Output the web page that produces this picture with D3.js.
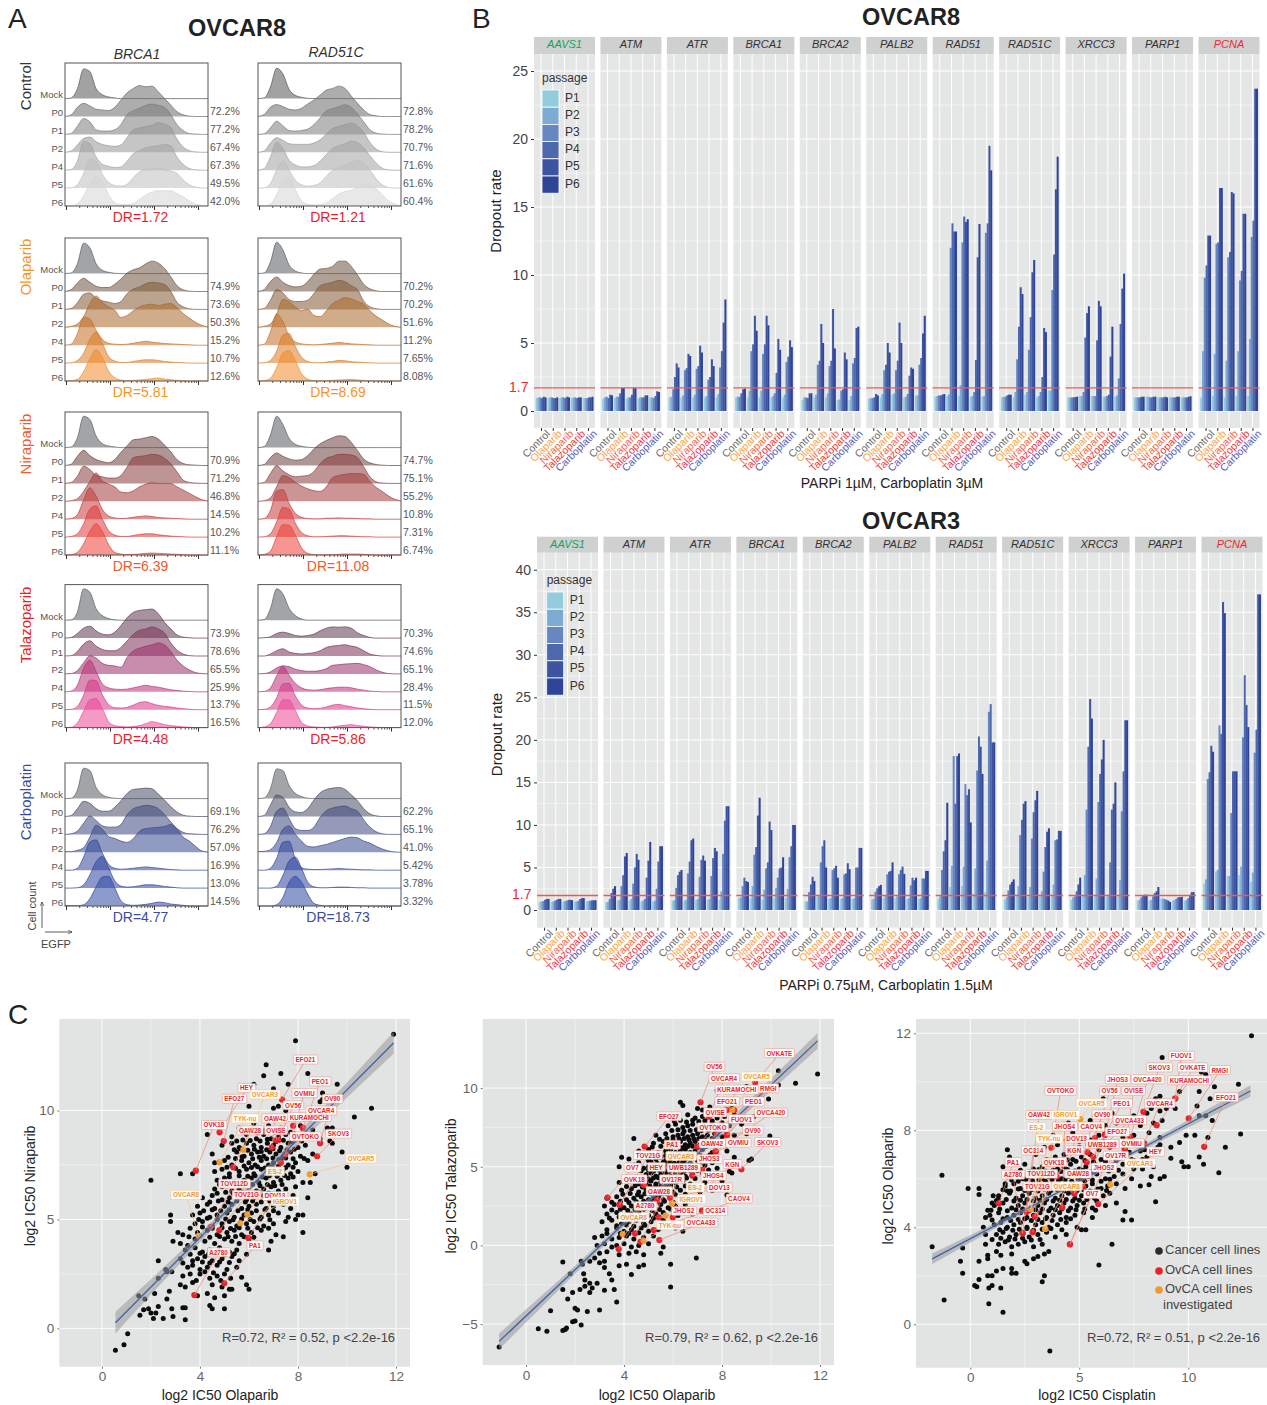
<!DOCTYPE html>
<html>
<head>
<meta charset="utf-8">
<script src="https://cdn.jsdelivr.net/npm/d3@7"></script>
<style>
body{margin:0;background:#fff}
text{font-family:'Liberation Sans',Arial,sans-serif}
</style>
</head>
<body>
<script>
// ---- panel A: flow histograms, one row per passage, heights
const rowNames = ["Mock","P0","P1","P2","P4","P5","P6"];
const treatments = ["Control","Olaparib","Niraparib","Talazoparib","Carboplatin"];
const histControlBRCA1 = [[0,2,30,90,82,30,12,5,2,0,0,0,0,0,0,0,0,0,0,0,0,0,0,0],[0,5,28,40,32,22,20,18,28,50,72,85,94,90,92,75,55,35,15,5,1,0,0,0],[0,3,25,48,38,14,10,10,14,30,60,72,80,88,92,88,82,60,30,12,3,1,0,0],[0,4,22,42,46,32,24,20,18,22,45,68,74,78,82,90,85,75,40,16,5,1,0,0],[0,2,28,88,80,40,18,12,8,10,28,50,60,68,72,74,78,74,40,18,5,1,0,0],[0,1,10,45,88,82,42,18,8,6,12,32,50,56,58,60,56,52,45,25,10,3,0,0],[0,1,6,30,70,90,75,35,10,4,4,8,20,34,42,46,46,46,38,28,16,6,2,0]];
const histControlRAD51C = [[0,2,35,92,75,28,10,4,1,0,0,0,0,0,0,0,0,0,0,0,0,0,0,0],[0,6,28,36,30,22,20,25,38,50,65,80,85,92,85,62,40,20,6,2,0,0,0,0],[0,2,20,40,26,12,10,12,16,30,50,72,78,84,90,82,62,38,14,4,1,0,0,0],[0,4,28,44,36,26,24,24,24,28,38,55,72,78,84,88,80,60,30,10,2,0,0,0],[0,5,40,85,66,30,16,10,10,14,28,48,66,74,80,88,84,68,44,22,6,1,0,0],[0,1,14,55,82,55,24,10,6,8,16,36,54,62,70,78,84,76,55,28,10,2,0,0],[0,1,6,34,78,86,50,16,5,3,4,10,22,36,44,48,56,66,62,52,34,16,6,1]];
const histOlaparibBRCA1 = [[0,2,30,92,78,30,10,4,1,0,0,0,0,0,0,0,0,0,0,0,0,0,0,0],[0,6,26,40,28,16,12,12,22,38,56,66,72,84,92,86,70,45,18,5,1,0,0,0],[0,3,20,46,50,34,26,22,18,24,48,62,68,78,82,80,76,55,22,8,2,0,0,0],[0,3,10,32,72,95,75,62,52,30,36,50,62,68,70,66,70,72,60,42,28,15,6,1],[0,3,35,85,80,45,18,6,3,2,3,6,9,12,9,7,5,4,3,2,1,0,0,0],[0,1,8,30,72,94,60,20,6,2,2,5,8,10,10,8,5,3,2,1,0,0,0,0],[0,1,5,28,68,95,72,30,10,3,1,2,3,5,7,9,6,4,2,1,0,0,0,0]];
const histOlaparibRAD51C = [[0,2,35,95,72,26,8,2,0,0,0,0,0,0,0,0,0,0,0,0,0,0,0,0],[0,6,30,44,28,18,14,16,30,52,68,70,76,92,92,76,50,22,8,2,0,0,0,0],[0,3,28,60,50,30,24,24,28,48,72,78,82,88,84,72,60,25,8,2,0,0,0,0],[0,3,10,40,85,78,62,50,55,36,32,50,72,82,90,86,78,70,50,34,22,10,3,0],[0,3,40,95,72,28,10,4,2,1,2,4,6,8,6,4,3,2,1,0,0,0,0,0],[0,1,8,36,85,90,50,18,5,1,1,3,5,8,7,4,3,2,1,0,0,0,0,0],[0,1,8,40,85,92,62,22,6,1,0,1,2,3,4,5,3,2,1,0,0,0,0,0]];
const histNiraparibBRCA1 = [[0,2,30,95,85,35,12,5,2,0,0,0,0,0,0,0,0,0,0,0,0,0,0,0],[0,4,28,46,30,18,12,8,18,40,60,78,80,84,88,80,62,42,18,6,2,1,0,0],[0,3,22,52,42,24,20,16,16,24,50,78,82,84,88,86,76,60,35,10,3,1,0,0],[0,2,8,30,60,86,62,52,44,28,26,32,44,52,56,54,54,54,44,34,24,14,5,1],[0,2,14,58,95,70,30,10,4,2,3,6,8,10,8,5,4,3,2,1,0,0,0,0],[0,2,10,40,85,95,55,20,6,2,2,5,8,10,10,7,5,3,2,1,0,0,0,0],[0,1,8,34,72,95,72,32,8,3,1,2,3,5,6,5,4,3,2,1,0,0,0,0]];
const histNiraparibRAD51C = [[0,3,38,95,70,28,10,4,1,0,0,0,0,0,0,0,0,0,0,0,0,0,0,0],[0,3,24,38,28,20,16,18,30,50,66,76,84,90,88,70,45,20,8,3,1,0,0,0],[0,3,30,54,38,26,20,22,24,36,60,76,82,88,88,86,78,50,20,5,1,0,0,0],[0,2,10,44,78,72,58,46,38,32,30,44,72,78,82,84,84,82,60,42,30,16,6,1],[0,2,26,85,90,48,18,6,2,1,1,3,3,4,3,3,2,1,1,0,0,0,0,0],[0,1,10,46,90,85,42,14,4,1,1,2,3,4,4,3,2,1,1,0,0,0,0,0],[0,2,12,55,92,90,60,22,5,1,0,1,1,2,3,3,3,2,1,0,0,0,0,0]];
const histTalazoparibBRCA1 = [[0,1,25,95,85,35,14,5,1,0,0,0,0,0,0,0,0,0,0,0,0,0,0,0],[0,2,14,30,36,22,12,10,18,38,62,78,84,86,88,74,48,28,10,3,1,0,0,0],[0,1,14,36,46,30,20,16,16,26,46,66,78,82,88,82,70,40,18,6,1,0,0,0],[0,1,10,34,55,48,32,26,24,20,50,70,78,84,88,94,88,68,42,24,12,4,1,0],[0,2,20,72,96,62,24,12,8,7,8,12,16,20,16,14,10,6,4,2,1,0,0,0],[0,1,10,44,90,88,45,16,6,5,7,14,22,24,18,13,10,8,5,3,1,0,0,0],[0,1,14,50,84,88,58,18,6,3,2,3,6,12,18,14,9,6,4,2,1,0,0,0]];
const histTalazoparibRAD51C = [[0,2,35,95,80,36,14,4,0,0,0,0,0,0,0,0,0,0,0,0,0,0,0,0],[0,1,4,14,18,14,8,6,8,12,22,30,34,33,34,30,16,8,2,0,0,0,0,0],[0,0,6,16,22,12,8,6,8,10,16,26,30,32,34,30,26,16,6,2,0,0,0,0],[0,1,6,18,24,22,14,10,8,8,10,16,26,28,30,31,32,28,22,12,5,1,0,0],[0,1,12,48,78,50,26,12,6,5,6,10,12,14,14,12,8,5,2,1,0,0,0,0],[0,1,8,36,78,80,42,14,5,3,4,8,14,16,12,9,5,3,1,0,0,0,0,0],[0,2,12,46,84,84,52,16,5,2,1,1,2,5,7,9,6,4,2,1,0,0,0,0]];
const histCarboplatinBRCA1 = [[0,1,26,92,85,34,12,4,1,0,0,0,0,0,0,0,0,0,0,0,0,0,0,0],[0,3,24,46,40,24,16,16,28,48,70,82,84,86,84,68,50,30,14,4,1,0,0,0],[0,2,10,34,56,42,26,22,22,30,60,78,84,88,86,78,60,38,18,6,2,1,0,0],[2,2,6,14,46,82,70,48,42,34,30,42,64,72,74,76,78,84,70,46,34,18,4,1],[0,0,6,40,85,92,52,18,6,3,4,6,8,10,8,6,4,2,1,0,0,0,0,0],[0,0,1,10,40,80,96,62,22,6,3,4,7,10,10,8,5,3,1,0,0,0,0,0],[1,1,1,4,22,58,88,90,55,16,4,2,3,5,8,12,10,6,4,2,0,0,0,0]];
const histCarboplatinRAD51C = [[0,2,30,90,85,40,16,6,1,0,0,0,0,0,0,0,0,0,0,0,0,0,0,0],[0,3,35,65,58,28,14,12,24,50,72,82,86,88,82,66,48,24,8,2,0,0,0,0],[0,2,24,70,80,48,18,12,12,22,52,72,80,84,86,78,70,44,22,8,2,0,0,0],[2,3,8,30,70,80,55,34,18,16,20,24,30,36,42,46,44,34,28,18,10,4,1,0],[0,0,6,36,85,88,35,8,3,2,2,3,4,5,4,3,2,1,1,0,0,0,0,0],[0,0,0,6,38,82,94,60,18,4,1,1,2,3,3,2,1,1,0,0,0,0,0,0],[0,0,0,4,26,72,90,72,36,8,2,0,1,1,1,1,1,0,0,0,0,0,0,0]];
const pctBRCA1 = [["72.2%","77.2%","67.4%","67.3%","49.5%","42.0%"],["74.9%","73.6%","50.3%","15.2%","10.7%","12.6%"],["70.9%","71.2%","46.8%","14.5%","10.2%","11.1%"],["73.9%","78.6%","65.5%","25.9%","13.7%","16.5%"],["69.1%","76.2%","57.0%","16.9%","13.0%","14.5%"]];
const pctRAD51C = [["72.8%","78.2%","70.7%","71.6%","61.6%","60.4%"],["70.2%","70.2%","51.6%","11.2%","7.65%","8.08%"],["74.7%","75.1%","55.2%","10.8%","7.31%","6.74%"],["70.3%","74.6%","65.1%","28.4%","11.5%","12.0%"],["62.2%","65.1%","41.0%","5.42%","3.78%","3.32%"]];
const drBRCA1 = ["DR=1.72","DR=5.81","DR=6.39","DR=4.48","DR=4.77"];
const drRAD51C = ["DR=1.21","DR=8.69","DR=11.08","DR=5.86","DR=18.73"];

// ---- panel B: dropout rate per gene / drug / passage
const genes = ["AAVS1","ATM","ATR","BRCA1","BRCA2","PALB2","RAD51","RAD51C","XRCC3","PARP1","PCNA"];
const drugs = ["Control","Olaparib","Niraparib","Talazoparib","Carboplatin"];
const passages = ["P1","P2","P3","P4","P5","P6"];
const dropoutOvcar8 = [
[[.95,1,1,.95,1.05,1],[.95,1,1,.95,.95,1],[.95,1,1,.95,1.05,1],[.95,1,1,.95,1,1],[.95,.95,.95,1,1,1.05]],
[[.9,1,1.05,.95,1.2,1.15],[.95,1.05,1.05,1.3,1.7,1.7],[.9,1,1,1.2,1.7,1.7],[.9,1,1,1,1.15,1.15],[1,1,.95,1.1,1.45,1.4]],
[[1,1.05,1.6,2.5,3.5,3.2],[1,1.15,3,3.15,4.2,4.05],[1,1.2,3.1,3.3,4.8,4.3],[1,1.1,2.3,2.5,3.8,3.3],[1,1.25,3.2,4.4,6.5,8.2]],
[[1,1.05,1.05,1.3,1.6,1.65],[1,1.5,4.4,4.9,7,5.9],[1,1.5,4.2,4.9,7,6.3],[1,1.1,1.3,2.8,5.3,4.5],[1,1.2,3.6,4,5.2,4.7]],
[[.8,1,1,.95,1.3,1.3],[1,1.2,3.4,3.7,6.4,5],[1,1.3,3.3,3.7,7.5,4.6],[.8,.85,1.5,1.6,4.3,3.8],[.8,1.1,3.5,3.9,6.1,6.2]],
[[.9,.95,.95,1,1.25,1.15],[1,1.25,3,3.4,5,4.3],[1.2,1.3,3,3.7,6.5,5],[1,1.05,1.25,2.6,3.2,3.1],[1.15,1.15,3.4,3.9,5.7,7]],
[[1.05,1.1,1.15,1.15,1.2,1.25],[1.1,1.2,12,13.8,13.2,13.2],[1.1,1.9,12.4,14.3,13.9,14.1],[1.05,1.1,1.4,3.75,11.3,13.75],[1.05,1.1,13.1,13.8,19.5,17.7]],
[[1,1.05,1.05,1.15,1.2,1.2],[1,1.4,3.8,6.2,9.1,8.6],[1.2,1.4,4.5,6.9,10.2,11.1],[1,1.1,1.4,2.5,6.1,5.8],[1.5,1.5,8.9,11.5,16.3,18.7]],
[[1,1,1,1,1.03,1.05],[1.1,1.1,1.4,5.4,7.2,7.7],[1.1,1.1,1.1,5.2,8.1,7.7],[1.05,1.05,1.1,1.2,4,6.2],[1.05,1.15,2.4,6.4,9,10.1]],
[[1,1,1,1,1.05,1.05],[1.05,1.05,1,1,1.05,1.05],[1,1,1,1,1.05,1],[1,1,1,1,1.05,1.05],[1,1,1,1,1.05,1.08]],
[[1,4.4,9.8,10.7,12.9,12.9],[1.1,4.2,12.3,12.4,16.4,16.4],[1,3.7,11.3,11.7,16.1,16],[1.1,4.4,9.6,10.3,14.5,14.5],[1.1,5.3,12.8,14,23.7,23.7]]];
const dropoutOvcar3 = [
[[.95,1,1.05,1.2,1.3,1.3],[.95,1,1.1,1.2,1.3,1.3],[.95,1.05,1.1,1.2,1.2,1.15],[1,1,1.1,1.3,1.4,1.4],[1,1.05,1.1,1.15,1.15,1.15]],
[[.9,.95,1.3,2,2.5,2.8],[1.1,1.2,2.8,4.1,6.3,6.7],[1.1,1.3,3.1,5,6.6,5.9],[1,1.1,1.3,3.8,5.8,8],[1,1.1,2.5,5.7,7.5,7.5]],
[[1.1,1.15,2.6,4.1,4.5,4.7],[1.1,1.2,4.3,5.7,8.2,8.4],[1.2,1.3,3.9,5.9,6.4,5.8],[1.2,1.3,4,6.1,7.3,6.9],[1.2,2.2,6.6,10.5,12.2,12.2]],
[[1.4,1.5,2.8,3.8,3.4,3.3],[1.4,2.8,6.5,7.4,11.1,13.2],[1.2,2.4,4.9,5.6,10.4,9.4],[1.4,2.6,3.8,4.9,5,6.2],[1.4,2.5,6.2,7.5,10,10]],
[[1,1,2.1,3,3.9,3.4],[1.6,1.6,5.6,7.5,8.2,5],[1.3,1.4,4.7,4.9,5.2,3.8],[1.3,1.4,4.2,4.3,5.5,4.8],[1.3,1.4,5,5,7.3,7.3]],
[[1.25,1.3,2.15,2.55,2.8,2.95],[1.4,1.7,4.2,4.5,4.6,5.6],[1.4,1.6,4.2,4.7,5.1,4.25],[1.3,1.4,2.9,3.8,3.5,3.8],[1.3,1.4,3.7,3.7,4.6,4.6]],
[[1.3,1.6,4.7,6.9,8.2,12.6],[2.7,5.2,18.1,12.5,18.1,18.4],[2.8,5.1,14.8,13.5,14.2,10.3],[1.9,4.9,16.4,20.4,19.2,16],[2.1,5.8,23.3,24.2,19.7,19.7]],
[[1.2,1.5,2.3,3,3.3,3.6],[1.6,2.8,8.8,10.6,12.5,12.8],[1.5,2.7,8.4,11.5,12.9,14],[1.6,2.2,4.5,7.4,9.2,9.6],[1.6,3,8.2,8.3,9.3,9.3]],
[[1.2,1.5,1.6,2.2,3,3.8],[1.7,4.1,11.8,19.2,24.8,22.5],[1.6,3.7,12.7,16,17.7,20],[1.5,1.65,5.6,11.8,12.5,15],[1.6,3.5,11.6,16.3,22.3,22.3]],
[[1.1,1.2,1.5,1.7,1.8,1.8],[1.1,1.2,1.6,2,2.2,2.7],[1.35,1.35,1.3,1.2,1.1,.95],[1.1,1.2,1.35,1.5,1.5,1.55],[1.1,1.2,1.4,1.8,2.1,2.1]],
[[3.1,3.6,15.4,16.2,19.3,18.6],[4.5,4.7,21.7,20.7,36.2,34.9],[4,4,11.4,16.3,16.3,16.3],[4.1,5.1,20.3,27.6,24.1,21.5],[3.3,4.4,18.5,21.2,37.1,37.1]]];

// ---- panel C: black dots, x,y pairs in a flat list
const dotsNiraparib = [11.9,13.5,7.9,13.2,6.7,12.1,7.3,11.7,6.6,11.6,8.4,11.7,7.6,11.2,6.2,11.2,9.6,11.2,7,11,9,10.8,9,10.5,8.9,10.4,11,10.1,6,10.2,7.2,10.2,7,10.1,7.5,10,10.3,9.7,9.4,9.2,9.3,8.6,9.4,8.5,9.8,8.1,10,7.4,9.5,6.5,8.5,6.7,8.7,7.1,8.4,6,8.2,5.2,8.2,4.4,7.9,5,2,6.8,3.2,7.1,3.7,7.1,4.3,8.9,4.4,9.4,2.8,5.2,2.8,4.9,2.3,3.1,.55,-1,.9,-.75,1.05,-.25,1.5,1.5,1.75,1.35,1.55,.6,1.7,.85,1.9,.9,2,.7,2.1,.45,2.2,.7,2.3,1,2.5,.45,2.65,1.35,2.75,1.7,2.85,.9,2.9,.55,3.3,.95,3.4,.4,2.15,1.6,2.3,2.3,2.6,2.7,2.65,2.6,2.85,2.6,3.2,3.2,
5.6,9.2,6.2,9.4,6.5,9.1,6.8,9.3,7.3,9.2,7.7,9,8.1,9.3,8.6,9.1,9.2,9.2,5.3,8.8,5.9,8.9,6.3,8.7,6.6,8.9,6.9,8.7,7.2,8.8,7.5,8.9,7.9,8.7,8.4,8.8,8.9,8.7,4.9,8.4,5.3,8.5,5.6,8.3,5.9,8.5,6.2,8.4,6.5,8.3,6.75,8.5,7,8.4,7.3,8.3,7.6,8.5,8,8.3,8.3,8.4,4.5,8,5.5,8.1,5.8,7.9,6.1,8,6.35,8.1,6.6,7.9,6.85,8.1,7.1,8,7.4,7.9,7.7,8.1,8.1,7.9,8.6,8,4.6,7.6,5,7.7,5.3,7.5,5.7,7.7,6,7.6,6.25,7.5,6.5,7.7,6.8,7.5,7,7.6,7.3,7.7,7.6,7.5,7.9,7.6,8.4,7.7,4.6,7.2,4.9,7.3,5.2,7.1,5.6,7.2,5.9,7.3,6.2,7.1,6.5,7.3,6.8,7.1,7.1,7.2,7.4,7.3,7.7,7.1,8,7.2,4.7,6.8,5,6.9,5.4,6.7,5.8,6.8,6.1,6.9,6.4,6.7,6.7,6.9,7,6.7,7.3,6.8,7.6,6.9,8.2,6.7,4.6,6.4,4.9,6.5,5.3,6.3,5.6,6.4,6,6.5,6.3,6.3,6.6,6.4,6.9,6.5,7.2,6.3,7.5,6.4,7.9,6.5,4.1,6,4.5,6.1,4.9,5.9,5.2,6,5.5,6.1,5.9,5.9,6.2,6,6.6,6.1,7,5.9,7.4,6,7.8,6.1,3.9,5.6,4.3,5.7,4.6,5.5,5,5.6,5.3,5.7,5.7,5.5,6,5.6,6.3,5.7,6.7,5.5,7,5.6,7.4,5.7,7.7,5.5,3.7,5.2,4,5.3,4.4,5.1,4.7,5.2,5.1,5.3,5.4,5.1,5.8,5.2,6.1,5.3,6.5,5.1,6.8,5.2,7.2,5.3,7.6,5.1,8,5.2,3.8,4.8,4.1,4.9,4.5,4.7,4.9,4.8,5.2,4.9,5.5,4.7,5.9,4.8,6.2,4.9,6.6,4.7,7,4.8,7.5,4.9,3.1,4.4,3.3,4.3,3.9,4.4,4.3,4.5,4.7,4.3,5.1,4.4,5.4,4.5,5.7,4.3,6.1,4.4,6.5,4.5,7.1,4.3,7.4,4.2,2.9,4,3.2,3.9,3.5,3.8,3.8,4.1,4.2,4,4.6,3.9,5,4.1,5.3,4,5.6,3.9,6,4.1,6.9,4,3.4,3.6,3.8,3.7,4.1,3.5,4.4,3.6,4.8,3.7,5.2,3.5,5.5,3.6,5.9,3.4,6.8,3.6,3.9,3.2,4.2,3.3,4.5,3.1,4.9,3.2,5.3,3.3,5.6,3.1,3.5,2.8,3.7,2.9,4,2.7,4.3,2.8,4.7,2.9,5.1,2.7,5.5,2.8,3.3,2.4,4,2.5,4.4,2.3,4.7,2.4,5,2.5,5.7,2.35,5.9,2,3.2,2,3.4,1.9,3.7,2.1,4.5,2,4.9,1.9,5.3,1.8,6,1.8,3.9,1.5,4.3,1.6,4.6,1.4,5,1.5,5.2,1.8,3.4,.95,4.4,1.05,4.5,.9,5,.9,
5.8,9,6.05,9.05,6.35,8.98,6.65,9.08,7.05,9,7.45,9.05,7.85,8.92,5.5,8.6,5.75,8.65,6.05,8.62,6.45,8.6,6.75,8.68,7.1,8.58,7.4,8.63,7.75,8.55,8.15,8.6,5.4,8.2,5.65,8.25,5.95,8.18,6.22,8.22,6.5,8.12,6.72,8.2,6.98,8.24,7.25,8.15,7.55,8.2,7.85,8.22,5.15,7.85,5.45,7.8,5.72,7.88,6.15,7.78,6.42,7.85,6.72,7.78,6.98,7.82,7.22,7.75,7.5,7.82,7.8,7.78,8.25,7.8,5.1,7.4,5.45,7.35,5.8,7.45,6.1,7.38,6.35,7.42,6.65,7.36,6.95,7.4,7.2,7.44,7.5,7.38,7.8,7.4,5.2,6.95,5.6,7,5.95,6.98,6.25,7,6.55,6.95,6.85,7,7.15,6.98,7.45,7.02,7.8,6.95,4.8,6.6,5.1,6.55,5.45,6.6,5.8,6.55,6.15,6.6,6.45,6.55,6.75,6.6,7.05,6.55,7.35,6.6,4.7,6.2,5.05,6.25,5.35,6.2,5.75,6.25,6.05,6.2,6.4,6.25,6.8,6.2,7.2,6.22,4.4,5.8,4.75,5.85,5.15,5.8,5.5,5.85,5.85,5.8,6.15,5.85,6.5,5.8,6.85,5.85,7.2,5.8,4.15,5.4,4.5,5.45,4.85,5.4,5.2,5.45,5.55,5.4,5.95,5.45,6.3,5.4,6.65,5.45,7,5.4,3.95,5,4.3,5.05,4.7,5,5.05,5.02,5.35,4.98,5.7,5.02,6.05,5,6.45,5.02,6.85,4.98,3.6,4.6,4.1,4.65,4.5,4.6,4.9,4.62,5.25,4.58,5.6,4.62,5.95,4.6,6.35,4.62,6.8,4.6,3.55,4.2,4,4.25,4.4,4.18,4.8,4.22,5.15,4.2,5.45,4.22,5.8,4.2,6.2,4.18,3.6,3.4,4,3.45,4.35,3.4,4.65,3.42,5,3.38,5.4,3.42,3.3,3,3.7,3.1,4.1,3.05,4.4,3,4.8,3.05,5.2,3.02,3.6,2.5,3.85,2.2,4.2,2.6,4.55,2.55,4.85,2.2,5.25,2.3];
const dotsTalazoparib = [11.9,10.9,11,10.3,10.3,11.1,10.3,10.2,9.9,9.3,9.3,9.2,9,10.1,8.6,9.8,7.8,9.85,9.95,6.95,9.2,5.5,9.1,5.4,8.3,4.7,8.2,3.2,6.95,-.8,5.9,-2.65,5.9,-1.2,4.3,-1.85,4.1,-1.2,3.8,-1.3,4.6,-1.35,4.8,-1.25,1.5,-1.05,1.8,-1.8,1.5,-2.8,1.7,-3.4,1.9,-3,2.2,-2.8,2.35,-1.8,2.4,-2.2,2.4,-2.6,2.6,-2.4,2.6,-3,2.7,-2.7,2.9,-2.4,3.2,-2.85,3.6,-2.8,3.7,-3.6,3,-4.1,2.5,-4.2,2.1,-4.1,2,-4,1,-4.15,.5,-5.3,.85,-5.45,1.5,-5.4,1.6,-5.35,1.65,-5.25,1.9,-4.85,2,-4.8,2.25,-5.05,-1.1,-6.45,2.25,-1,2.3,-1.2,2.6,-1,2.8,-.8,3,-1.1,3.2,-1,3.4,-1.8,3.5,-2.2,3.2,-1.4,
6.3,9.1,6.4,8.9,7,8.7,7.2,8.6,7.5,8.8,8,8.5,8.4,8.7,6.2,8.2,6.6,8.3,6.9,8.1,7.2,8.2,7.5,8.3,7.8,8.1,8.1,8.2,8.5,8.3,8.9,8.1,9.3,8.2,5.8,7.6,6.1,7.7,6.4,7.5,6.6,7.6,6.8,7.7,7.1,7.5,7.3,7.6,7.6,7.7,7.9,7.5,8.3,7.6,8.8,7.7,4.4,6.8,5.3,7,5.7,7.1,6,6.9,6.2,7,6.4,7.1,6.6,6.9,6.8,7,7,7.1,7.2,6.9,7.4,7,7.7,7.1,8,6.9,8.5,7,9,7.1,5.2,6.5,5.6,6.6,5.9,6.4,6.1,6.5,6.3,6.6,6.5,6.4,6.7,6.5,6.9,6.6,7.1,6.4,7.3,6.5,7.6,6.6,8,6.4,4.6,6,5,6.1,5.4,5.9,5.7,6,5.9,6.1,6.1,5.9,6.3,6,6.5,6.1,6.7,5.9,6.9,6,7.2,6.1,7.6,5.9,8.2,6,4.2,5.5,3.9,5.6,5,5.4,5.3,5.5,5.5,5.6,5.7,5.4,5.9,5.5,6.1,5.6,6.3,5.4,6.5,5.5,6.7,5.6,7,5.4,7.4,5.5,8.5,5.6,3.8,5,4.4,5.1,4.8,4.9,5,5,5.2,5.1,5.4,4.9,5.6,5,5.8,5.1,6,4.9,6.2,5,6.4,5.1,6.6,4.9,6.9,5,7.3,5.1,7.8,4.9,4.9,4.5,5.1,4.6,5.3,4.4,5.5,4.5,5.7,4.6,5.9,4.4,6.1,4.5,6.3,4.6,6.5,4.4,6.8,4.5,7.2,4.6,7.6,4.4,8,4.5,8.4,4.6,3.8,4,4.2,4.1,4.6,3.9,4.9,4,5.1,4.1,5.3,3.9,5.5,4,5.7,4.1,5.9,3.9,6.1,4,6.4,4.1,6.7,3.9,7.3,4,8,4.1,3.9,3.5,4.3,3.6,4.6,3.4,4.9,3.5,5.2,3.6,5.4,3.4,5.6,3.5,5.8,3.6,6,3.4,6.3,3.5,6.7,3.6,7.1,3.4,7.6,3.5,3.3,3,3.7,3.1,4.1,2.9,4.4,3,4.7,3.1,5,2.9,5.2,3,5.4,3.1,5.6,2.9,5.9,3,6.3,3.1,6.7,2.9,3.2,2.5,3.6,2.6,4,2.4,4.3,2.5,4.6,2.6,4.9,2.4,5.2,2.5,5.5,2.6,5.8,2.4,6.1,2.5,6.5,2.6,3.3,2,3.7,2.1,4,1.9,4.3,2,4.6,2.1,5,1.9,5.3,2,5.6,2.1,6.2,1.9,6.8,2,3.1,1.5,3.5,1.6,3.9,1.4,4.2,1.5,4.5,1.6,4.8,1.4,5.1,1.5,5.6,1.6,6,1.4,3.3,1,3.7,1.1,4,.9,4.3,1,4.7,1.1,5,.9,5.4,1,6.1,1.1,6.4,.9,2.8,.5,3.1,.6,3.5,.4,3.8,.5,4.1,.6,4.4,.4,4.8,.5,5.2,.6,2.9,0,3.2,.1,3.5,-.1,3.7,0,4,.1,4.3,-.1,4.6,0,5,.1,5.6,-.1,3,-.5,3.3,-.4,3.8,-.6,4.2,-.5,4.5,-.4,4.8,-.6,5.5,-.5,
6.05,7.9,6.3,7.95,6.55,7.85,6.8,7.95,7.05,7.88,7.3,7.92,7.6,7.9,8,7.8,5.95,7.3,6.2,7.35,6.45,7.25,6.7,7.3,6.95,7.35,7.15,7.28,7.45,7.32,7.8,7.3,5.45,6.75,5.75,6.8,6,6.72,6.25,6.78,6.45,6.8,6.65,6.72,6.85,6.78,7.05,6.8,7.3,6.72,7.6,6.8,5.15,6.25,5.5,6.3,5.8,6.22,6,6.28,6.2,6.3,6.4,6.22,6.6,6.28,6.8,6.3,7,6.22,7.35,6.28,5.2,5.75,5.45,5.8,5.7,5.72,5.95,5.78,6.15,5.8,6.35,5.72,6.55,5.78,6.75,5.8,7.1,5.72,7.5,5.75,4.6,5.25,5.1,5.3,5.35,5.22,5.6,5.28,5.85,5.3,6.05,5.22,6.25,5.28,6.45,5.3,6.7,5.22,7.1,5.28,7.6,5.25,4.7,4.75,5,4.8,5.2,4.72,5.45,4.78,5.65,4.8,5.85,4.72,6.05,4.78,6.25,4.8,6.45,4.72,6.7,4.78,7,4.75,7.45,4.8,4.4,4.25,4.75,4.3,5,4.22,5.2,4.28,5.4,4.3,5.6,4.22,5.8,4.28,6,4.3,6.25,4.22,6.55,4.28,6.9,4.25,4.1,3.75,4.45,3.8,4.75,3.72,5.05,3.78,5.3,3.8,5.5,3.72,5.7,3.78,5.9,3.8,6.15,3.72,6.5,3.78,6.9,3.75,3.95,3.25,4.25,3.3,4.55,3.22,4.85,3.28,5.1,3.3,5.3,3.22,5.5,3.28,5.75,3.3,6.1,3.22,6.5,3.25,3.5,2.75,3.85,2.8,4.2,2.72,4.5,2.78,4.8,2.8,5.1,2.72,5.35,2.78,5.65,2.8,6,2.75,3.5,2.25,3.85,2.3,4.15,2.22,4.45,2.28,4.8,2.3,5.15,2.22,5.45,2.28,5.9,2.3,3.4,1.75,3.8,1.8,4.1,1.72,4.4,1.78,4.7,1.8,5.2,1.72,3.7,1.25,4.1,1.3,4.4,1.22,4.85,1.28,3.3,.75,3.85,.78,4.2,.75,4.6,.8];
const dotsOlaparib = [12.9,11.9,8.8,11,12.3,9.9,11.2,9.8,10.6,10.4,10.8,10.3,9.6,9.6,10.5,9.6,11,9.3,10.4,9,8.7,9.4,8.5,9.3,6.1,9.3,12.4,7.85,11.7,7.3,11.4,6.25,10.7,6.6,10.5,6.9,10.9,7.7,11.1,8.4,10.5,8.6,10.8,8.6,10.3,7.8,9.9,7.8,9.6,7.5,9.2,7.3,8.7,7.4,9.2,6.85,9.7,6.7,9.8,6.5,10,6.5,-1.3,6.15,-.1,5.6,.4,5.6,.4,5.35,-1.75,3.2,-.35,3.15,-.45,2.6,-.35,2.1,-1.2,1,.2,1.6,.3,1.55,.4,1.85,.4,2.6,.85,.85,1.5,.5,.85,1.5,1,1.6,1.4,1.5,3.65,-1.1,3.4,2,3.3,1.75,5.9,2.45,6.5,3.3,7,4.3,7.4,4.3,7.1,4.65,8.5,5.05,8.9,6.1,8.7,6,8.3,6.1,8.2,5.75,7.8,5.7,7.9,6.4,.8,2,1,2,1.2,2.2,1.5,2.3,1.9,2.3,2.1,2.1,1.9,2.1,2.5,2.6,2.6,2.5,1.4,2.85,.8,2.7,.8,2.85,1.2,3,1.9,2.9,2.9,2.7,3.1,2.8,3.4,2.9,3.6,3,.7,3.3,.7,3.7,.6,4,.7,4.4,.8,4.7,1,5,1.05,5.3,1.3,5.2,1.7,5.5,1.6,5.8,
8.3,8.9,9,8.9,9.4,8.9,7.5,8.6,8.1,8.7,8.7,8.8,6.5,8.7,5.7,8.6,4.5,8.3,5.5,8.4,6.2,8.2,6.7,8.3,7.2,8.4,7.8,8.2,8.4,8.3,8.8,8.4,3.8,7.8,4.7,7.9,5.2,7.7,5.9,7.8,6.5,7.9,7,7.7,7.5,7.8,8.2,7.9,8.7,7.7,1.7,7.2,3.4,7.3,4,7.4,4.5,7.2,5,7.3,5.4,7.4,5.9,7.2,6.4,7.3,7.6,7.4,8,7.2,8.6,7.3,1.8,6.9,3,7,3.5,6.8,3.9,6.9,4.3,7,4.7,6.8,5.1,6.9,5.5,7,6,6.8,6.4,6.9,6.9,7,7.4,6.8,8.1,6.9,1.5,6.5,2.5,6.6,2.9,6.4,3.3,6.5,3.6,6.6,4,6.4,4.3,6.5,4.6,6.6,5,6.4,5.3,6.5,5.7,6.6,6.1,6.4,6.5,6.5,7,6.6,7.5,6.4,8.4,6.5,1.7,6.1,2.1,6.2,2.4,6,2.7,6.1,3,6.2,3.3,6,3.6,6.1,3.9,6.2,4.2,6,4.5,6.1,4.8,6.2,5.1,6,5.4,6.1,5.8,6.2,6.2,6,6.6,6.1,7,6.2,7.4,6,1.6,5.7,2,5.8,2.3,5.6,2.6,5.7,2.9,5.8,3.2,5.6,3.5,5.7,3.8,5.8,4.1,5.6,4.4,5.7,4.7,5.8,5,5.6,5.3,5.7,5.6,5.8,6,5.6,6.3,5.7,6.7,5.8,7.1,5.6,1.3,5.3,1.8,5.4,2.1,5.2,2.4,5.3,2.7,5.4,3,5.2,3.3,5.3,3.6,5.4,3.9,5.2,4.2,5.3,4.5,5.4,4.8,5.2,5.1,5.3,5.4,5.4,5.7,5.2,6.1,5.3,6.4,5.4,1.1,4.9,1.5,5,1.9,4.8,2.2,4.9,2.5,5,2.8,4.8,3.1,4.9,3.4,5,3.7,4.8,4,4.9,4.3,5,4.6,4.8,4.9,4.9,5.2,5,5.6,4.8,6.2,4.9,6.7,5,.9,4.5,1.3,4.6,1.7,4.4,2,4.5,2.3,4.6,2.6,4.4,2.9,4.5,3.2,4.6,3.5,4.4,3.8,4.5,4.1,4.6,4.4,4.4,4.8,4.5,5.2,4.6,5.6,4.4,1.1,4.1,1.4,4.2,1.7,4,2,4.1,2.3,4.2,2.6,4,3,4.1,3.3,4.2,3.6,4,4,4.1,4.4,4.2,4.9,4,1.2,3.7,1.5,3.8,1.8,3.6,2.1,3.7,2.4,3.8,2.7,3.6,3.1,3.7,3.5,3.8,3.9,3.6,4.4,3.7,5.1,3.9,5.3,3.9,1.3,3.3,1.6,3.4,1.9,3.2,2.2,3.3,2.5,3.4,2.9,3.2,3.3,3.3,
3.7,6.75,4.1,6.7,4.45,6.78,4.85,6.72,5.25,6.75,5.65,6.7,6.2,6.72,6.7,6.75,2.3,6.35,2.75,6.3,3.15,6.38,3.45,6.32,3.8,6.35,4.15,6.3,4.45,6.38,4.8,6.32,5.15,6.35,5.55,6.3,5.95,6.38,6.35,6.32,6.8,6.35,1.9,5.95,2.2,5.9,2.55,5.98,2.85,5.92,3.15,5.95,3.45,5.9,3.75,5.98,4.05,5.92,4.35,5.95,4.65,5.9,4.95,5.98,5.25,5.92,5.6,5.95,6,5.9,6.4,5.98,1.5,5.55,1.85,5.5,2.2,5.58,2.5,5.52,2.8,5.55,3.1,5.5,3.4,5.58,3.7,5.52,4,5.55,4.3,5.5,4.6,5.58,4.9,5.52,5.2,5.55,5.5,5.5,5.85,5.58,6.25,5.52,1.2,5.1,1.65,5.15,2,5.08,2.3,5.12,2.6,5.15,2.9,5.08,3.2,5.12,3.5,5.15,3.8,5.08,4.1,5.12,4.4,5.15,4.7,5.08,5,5.12,5.35,5.15,5.8,5.08,.95,4.7,1.35,4.75,1.7,4.68,2.1,4.72,2.4,4.75,2.7,4.68,3,4.72,3.3,4.75,3.6,4.68,3.9,4.72,4.2,4.75,4.5,4.68,4.85,4.72,5.25,4.75,5.75,4.7,1,4.3,1.5,4.35,1.85,4.28,2.2,4.32,2.5,4.35,2.8,4.28,3.1,4.32,3.45,4.35,3.75,4.28,4.15,4.32,4.6,4.35,1.35,3.9,1.65,3.95,1.95,3.88,2.25,3.92,2.6,3.95,2.9,3.88,3.3,3.92,3.7,3.95,4.2,3.9,1,3.5,1.4,3.55,1.75,3.48,2.05,3.52,2.4,3.55,2.8,3.48,3.2,3.5,5.5,7.6,6.1,7.55,6.7,7.5,4.4,7.6,5,7.55,7.3,7.1,7.8,7.15,7.5,6.75,7.9,6.8];

// ---- ovarian lines: name, label x,y, point x,y
const ovcaNiraparib = [["EFO21",8.3,12.3,7.35,10.5],["PEO1",8.9,11.3,8.2,9.2],["OV90",9.4,10.5,8.9,8.5],["HEY",5.9,11,4.8,9],["EFO27",5.4,10.5,4.97,8.6],["OVK18",4.57,9.3,3.83,7.24],["OAW28",6.04,9.05,5.36,7.4],["OAW42",7.06,9.6,6.93,8.3],["OVISE",7.1,9.05,7.13,8.64],["OV56",7.8,10.2,7.2,8.65],["OVMIU",8.26,10.76,7.48,8],["KURAMOCHI",8.46,9.66,7.8,9.3],["OVCAR4",8.94,9.96,8.2,9.2],["OVTOKO",8.3,8.77,7.3,7.6],["SKOV3",9.65,8.9,8.78,7.9],["TOV112D",5.4,6.6,4.43,4.65],["TOV21G",5.9,6.1,4.79,4.5],["DOV13",7.06,6.04,5.97,4.16],["A2780",4.76,3.45,3.77,1.53],["PA1",6.24,3.77,4.99,2.07]];
const investigatedNiraparib = [["OVCAR3",6.65,10.7,5.77,8.2],["TYK-nu",5.84,9.6,4.8,7.63],["OVCAR5",10.57,7.76,8.48,7.07],["ES-2",7.06,7.17,5.93,5.23],["IGROV1",7.47,5.8,5.64,4.83],["OVCAR8",3.43,6.09,3.95,4.25]];
const ovcaTalazoparib = [["OVKATE",10.34,12.17,9.35,10.36],["OV56",7.68,11.3,7.12,9.1],["OVCAR4",8.08,10.57,7.46,8.2],["KURAMOCHI",8.6,9.85,8.2,8.6],["RMGI",9.89,9.94,8.5,8.6],["EFO21",8.2,9.1,7.78,7.1],["PEO1",9.28,9.1,8.2,7],["OVISE",7.72,8.4,7.46,8.2],["FUOV1",8.79,7.98,8.2,7.03],["OVCA420",9.99,8.38,7.74,5.97],["OVTOKO",7.63,7.45,6.98,6.28],["OV90",9.25,7.26,8.2,7.03],["OAW42",7.59,6.43,7.74,5.97],["OVMIU",8.66,6.48,7.74,5.97],["SKOV3",9.86,6.52,8.79,4.84],["EFO27",5.83,8.15,4.84,6.28],["PA1",5.96,6.35,5.35,2.89],["TOV21G",4.98,5.69,3.82,2.59],["JHOS3",7.48,5.44,7.19,4.8],["HEY",5.31,4.93,4.8,3.84],["OV7",4.34,4.9,3.33,3.04],["UWB1289",6.43,4.88,4.45,.76],["KGN",8.42,5.12,5.99,1.78],["OVK18",4.42,4.16,3.82,2.59],["OV17R",5.95,4.16,4.67,.23],["JHOS4",7.64,4.37,6.78,4.44],["OAW28",5.43,3.4,4.8,3.84],["DOV13",7.89,3.63,5.87,3.04],["A2780",4.86,2.46,3.78,-.23],["CAOV4",8.69,2.93,5.21,.98],["JHOS2",6.44,2.14,5.42,1.78],["OC314",7.72,2.14,7.18,2.21],["OVCA433",7.14,1.4,5.44,.34]];
const investigatedTalazoparib = [["OVCAR5",9.41,10.68,8.42,8.6],["OVCAR3",6.32,5.63,5.96,2.68],["ES-2",6.9,3.63,5.69,1.89],["IGROV1",6.75,2.89,5.96,2.68],["OVCAR8",4.39,1.74,3.94,.72],["TYK-nu",5.87,1.23,4.8,.3]];
const ovcaOlaparib = [["FUOV1",9.68,11.04,9.4,9.31],["SKOV3",8.67,10.56,7.94,8.76],["OVKATE",10.2,10.56,9.4,9.31],["RMGI",11.44,10.45,10.02,8.49],["JHOS3",6.76,10.07,6.18,7.82],["OVCA420",8.13,10.07,7.34,7.72],["KURAMOCHI",10.05,10.03,8.55,8.21],["OVTOKO",4.14,9.59,3.72,7.28],["OV56",6.39,9.59,5.72,7.68],["OVISE",7.49,9.59,7.09,7.21],["PEO1",6.94,9.08,5.64,6.91],["OVCAR4",8.68,9.08,7.98,7.46],["EFO21",11.73,9.33,10.73,7.32],["OAW42",3.15,8.6,2.58,4.64],["OV90",6.05,8.62,5.38,7.09],["OVCA433",7.31,8.39,5.34,6.68],["JHOS4",4.33,8.12,4.22,4.82],["CAOV4",5.55,8.12,4.77,5.4],["EFO27",6.74,7.91,6.18,7.82],["DOV13",4.88,7.63,2.97,4.44],["UWB1289",6.05,7.4,5.18,5.67],["OVMIU",7.4,7.43,7.09,7.21],["OC314",2.89,7.13,2.4,3.75],["KGN",4.77,7.14,3.96,6.09],["HEY",8.49,7.09,5.87,4.96],["OV17R",6.67,6.92,4.77,5.4],["PA1",1.96,6.65,1.31,4.99],["OVK18",3.84,6.65,2.86,3.8],["JHOS2",6.13,6.43,4.57,3.3],["A2780",1.96,6.13,2.4,3.75],["TOV112D",3.26,6.17,2.58,4.64],["OAW28",4.94,6.17,4.77,5.4],["TOV21G",3.08,5.65,2.97,4.44],["OV7",5.58,5.34,4.57,3.3]];
const investigatedOlaparib = [["OVCAR5",5.56,9.09,5.05,8.46],["IGROV1",4.36,8.6,2.77,4.75],["ES-2",3.03,8.09,3.44,3.93],["TYK-nu",3.62,7.62,2.77,4.75],["OVCAR3",7.78,6.61,6.42,5.76],["OVCAR8",4.42,5.66,3.44,3.93]];

// regression line + confidence ribbon
const ribbonXNiraparib = [.55,2,4,6,8,10,11.9], ribbonLoNiraparib = [-.24,1.55,3.95,6.27,8.45,10.6,12.6], ribbonHiNiraparib = [.76,2.25,4.37,6.57,8.91,11.28,13.6], fitNiraparib = [[.55,.26],[11.9,13.1]];
const ribbonXTalazoparib = [-1.1,2,5,8,11.9], ribbonLoTalazoparib = [-6.6,-1.8,2.7,7,12.5], ribbonHiTalazoparib = [-5.6,-1.3,3,7.54,13.5], fitTalazoparib = [[-1.1,-6.1],[11.9,13]];
const ribbonXOlaparib = [-1.75,1,4,7,10,12.85], ribbonLoOlaparib = [2.48,3.88,5.36,6.76,8.12,9.38], ribbonHiOlaparib = [2.92,4.12,5.5,6.94,8.42,9.86], fitOlaparib = [[-1.75,2.7],[12.85,9.62]];

// ---- colours
const treatColor = {Control:"#333333",Olaparib:"#f7941e",Niraparib:"#f15a29",Talazoparib:"#ed1c24",Carboplatin:"#3b4ba0"};
const drColor = ["#ed1c24","#f7941e","#f15a29","#ed1c24","#3b4ba0"];
const drugColor = {Control:"#6d6d6d",Olaparib:"#f9a44a",Niraparib:"#f2694a",Talazoparib:"#ea3a42",Carboplatin:"#5b60b5"};
const passageColor = d3.scaleOrdinal(passages,["#93cddd","#7dabd4","#6687c1","#4e68ad","#3e54a3","#2e4496"]);
const rowColors = [
["#555555","#6a6a6a","#7c7c7c","#959595","#a2a2a2","#bfbfbf","#d6d6d6"],
["#555b60","#6e5340","#835a33","#a9672a","#c46f26","#dc7a22","#f18a2a"],
["#555b60","#6e4040","#8a3c3c","#a23c3c","#c43a3a","#dd3a3a","#ec3f36"],
["#555b60","#5f3a50","#7b3058","#9a2e68","#bb3077","#d83485","#ec4695"],
["#555b60","#484c66","#3c477e","#37478e","#324598","#2d439e","#2f47a2"]];

const svg = d3.select("body").append("svg").attr("width",1267).attr("height",1405).style("display","block");

function label(g,x,y,s,size,color,o={}){
  const t = g.append("text").attr("x",x).attr("y",y).attr("font-size",size).attr("fill",color).attr("dominant-baseline","middle").text(s);
  if(o.anchor) t.attr("text-anchor",o.anchor);
  if(o.weight) t.attr("font-weight",o.weight);
  if(o.italic) t.attr("font-style","italic");
  if(o.rotate) t.attr("transform","rotate("+o.rotate+" "+x+" "+y+")");
  return t;
}

// panel letters + titles
label(svg,8,21,"A",28,"#222");
label(svg,472,21,"B",28,"#222");
label(svg,8,1017,"C",28,"#222");
label(svg,237,30,"OVCAR8",23.5,"#222",{anchor:"middle",weight:"bold"});
label(svg,911,19,"OVCAR8",23.5,"#222",{anchor:"middle",weight:"bold"});
label(svg,911,523,"OVCAR3",23.5,"#222",{anchor:"middle",weight:"bold"});
label(svg,137,55,"BRCA1",14,"#333",{anchor:"middle",italic:true});
label(svg,336,53,"RAD51C",14,"#333",{anchor:"middle",italic:true});

// ---- A
const flowBottoms = [206,381,555,727.6,906];
const flowLabelY = [86,267,444,625,802];
const flowTable = [[histControlBRCA1,histControlRAD51C],[histOlaparibBRCA1,histOlaparibRAD51C],[histNiraparibBRCA1,histNiraparibRAD51C],[histTalazoparibBRCA1,histTalazoparibRAD51C],[histCarboplatinBRCA1,histCarboplatinRAD51C]];

function flowPanel(left,bottom,rows,colors,pct,dr,col,withNames,drDx){
  const g = svg.append("g");
  const x = d3.scaleLinear().domain([0,23]).range([left,left+143]);
  const h = d3.scaleLinear().domain([0,100]).range([0,-33]);
  const top = bottom-143;
  const step = 17.9;
  rows.forEach((vals,k)=>{
    const base = bottom-(6-k)*step;
    const area = d3.area().x((d,i)=>x(i)).y0(base).y1(d=>base+h(d)).curve(d3.curveMonotoneX);
    const line = d3.line().x((d,i)=>x(i)).y(d=>base+h(d)).curve(d3.curveMonotoneX);
    g.append("path").attr("d",area(vals)).attr("fill",colors[k]).attr("fill-opacity",.55);
    g.append("path").attr("d",line(vals)).attr("fill","none").attr("stroke",colors[k]).attr("stroke-width",.7);
    if(withNames) label(g,left-2,base-3,rowNames[k],9.5,"#555",{anchor:"end"});
    if(k>0) label(g,left+145,base-4,pct[k-1],10.5,"#555");
  });
  g.append("rect").attr("x",left).attr("y",top).attr("width",143).attr("height",143).attr("fill","none").attr("stroke","#555").attr("stroke-width",1);
  const logx = d3.scaleLog().domain([1,1000]).range([left+1,left+133]);
  const minor = [];
  [1,10,100].forEach(p=>d3.range(2,10).forEach(m=>minor.push(p*m)));
  g.append("g").attr("transform","translate(0,"+bottom+")").call(d3.axisBottom(logx).tickValues(minor).tickSize(2).tickFormat("")).call(s=>s.select(".domain").remove()).selectAll("line").attr("stroke","#555");
  g.append("g").attr("transform","translate(0,"+bottom+")").call(d3.axisBottom(logx).tickValues([1,10,100,1000]).tickSize(4).tickFormat("")).call(s=>s.select(".domain").remove()).selectAll("line").attr("stroke","#333");
  label(g,left+drDx,bottom+12.5,dr,14,col,{anchor:"middle"});
}
treatments.forEach((t,i)=>{
  flowPanel(65,flowBottoms[i],flowTable[i][0],rowColors[i],pctBRCA1[i],drBRCA1[i],drColor[i],true,75.5);
  flowPanel(258,flowBottoms[i],flowTable[i][1],rowColors[i],pctRAD51C[i],drRAD51C[i],drColor[i],false,80);
  label(svg,27,flowLabelY[i],t,15,treatColor[t],{anchor:"middle",rotate:-90});
});
label(svg,33,906,"Cell count",11,"#444",{anchor:"middle",rotate:-90});
label(svg,41,945,"EGFP",11,"#444");
svg.append("defs").append("marker").attr("id","arr").attr("markerWidth",6).attr("markerHeight",6).attr("refX",5).attr("refY",2.5).attr("orient","auto")
  .append("path").attr("d","M0,0L5,2.5L0,5").attr("fill","none").attr("stroke","#333").attr("stroke-width",.8);
svg.append("line").attr("x1",42).attr("x2",42).attr("y1",928).attr("y2",902).attr("stroke","#333").attr("stroke-width",.8).attr("marker-end","url(#arr)");
svg.append("line").attr("x1",45).attr("x2",72).attr("y1",932).attr("y2",932).attr("stroke","#333").attr("stroke-width",.8).attr("marker-end","url(#arr)");

// ---- B
function facetChart(cfg){
  const w = 61, step = 66.45;
  const y = d3.scaleLinear().domain(cfg.yDomain).range([cfg.bottom,cfg.top]);
  const x = d3.scalePoint().domain(drugs).range([0,w]).padding(.6);
  const inner = d3.scaleBand().domain(passages).range([-5.3,5.3]);
  const g = svg.append("g");
  genes.forEach((gene,gi)=>{
    const left = cfg.left+gi*step;
    const f = g.append("g").attr("transform","translate("+left+",0)");
    f.append("rect").attr("y",cfg.top).attr("width",w).attr("height",cfg.bottom-cfg.top).attr("fill","#e5e6e6");
    f.append("rect").attr("y",cfg.stripTop).attr("width",w).attr("height",cfg.top-cfg.stripTop).attr("fill","#cfd0d0");
    const col = gene==="AAVS1" ? "#12a55a" : gene==="PCNA" ? "#ed2a2f" : "#333";
    label(f,w/2,(cfg.top+cfg.stripTop)/2,gene,11,col,{anchor:"middle",italic:true});
    cfg.minor.forEach(v=>f.append("line").attr("x2",w).attr("y1",y(v)).attr("y2",y(v)).attr("stroke","#fff").attr("stroke-width",.5));
    cfg.ticks.forEach(v=>f.append("line").attr("x2",w).attr("y1",y(v)).attr("y2",y(v)).attr("stroke","#fff").attr("stroke-width",1));
    drugs.forEach(d=>f.append("line").attr("x1",x(d)).attr("x2",x(d)).attr("y1",cfg.top).attr("y2",cfg.bottom).attr("stroke","#fff").attr("stroke-width",1));
    drugs.forEach((d,di)=>{
      f.selectAll(null).data(cfg.data[gi][di]).enter().append("rect")
        .attr("x",(v,i)=>x(d)+inner(passages[i]))
        .attr("width",inner.bandwidth()+.25)
        .attr("y",v=>y(v))
        .attr("height",v=>y(0)-y(v))
        .attr("fill",(v,i)=>passageColor(passages[i]));
    });
    f.append("line").attr("x2",w).attr("y1",y(1.7)).attr("y2",y(1.7)).attr("stroke","#ee5a52").attr("stroke-width",1.4);
    const ax = f.append("g").attr("transform","translate(0,"+cfg.bottom+")").call(d3.axisBottom(x).tickSize(3));
    ax.select(".domain").remove();
    ax.selectAll("line").attr("stroke","#333");
    ax.selectAll("text").attr("font-size",10.5).attr("font-family","'Liberation Sans',Arial,sans-serif")
      .attr("fill",d=>drugColor[d]).attr("text-anchor","end").attr("dx",2).attr("dy",5)
      .attr("transform","rotate(-45)");
  });
  const ay = g.append("g").attr("transform","translate("+cfg.left+",0)").call(d3.axisLeft(y).tickValues(cfg.ticks).tickSize(3));
  ay.select(".domain").remove();
  ay.selectAll("line").attr("stroke","#333");
  ay.selectAll("text").attr("font-size",14).attr("font-family","'Liberation Sans',Arial,sans-serif").attr("fill","#444");
  label(g,cfg.left-25,y(1.7),"1.7",14,"#ed2a2f");
  label(g,cfg.yTitleX,cfg.yTitleY,"Dropout rate",15,"#222",{anchor:"middle",rotate:-90});
  label(g,cfg.xTitleX,cfg.xTitleY,cfg.xTitle,14,"#222",{anchor:"middle"});
  // passage legend
  const lx = cfg.left+cfg.legendDx, ly = cfg.legendY;
  label(g,lx,ly,"passage",12,"#333");
  passages.forEach((p,i)=>{
    g.append("rect").attr("x",lx).attr("y",ly+11+i*17.2).attr("width",17).attr("height",17.2).attr("fill",passageColor(p)).attr("stroke","#fff").attr("stroke-width",.8);
    label(g,lx+23,ly+19.5+i*17.2,p,12,"#333");
  });
}
facetChart({left:534,top:54,stripTop:37,bottom:428,yDomain:[-1.25,26.25],ticks:[0,5,10,15,20,25],minor:[2.5,7.5,12.5,17.5,22.5],data:dropoutOvcar8,
  yTitleX:497,yTitleY:211,xTitleX:892,xTitleY:484,xTitle:"PARPi 1µM, Carboplatin 3µM",legendDx:8,legendY:79});
facetChart({left:537,top:552.7,stripTop:536.7,bottom:927.7,yDomain:[-2.08,42],ticks:[0,5,10,15,20,25,30,35,40],minor:[2.5,7.5,12.5,17.5,22.5,27.5,32.5,37.5],data:dropoutOvcar3,
  yTitleX:498,yTitleY:734.5,xTitleX:886,xTitleY:986,xTitle:"PARPi 0.75µM, Carboplatin 1.5µM",legendDx:9.7,legendY:581});

// ---- C
function scatter(cfg){
  const x = d3.scaleLinear().domain(cfg.xDomain).range([cfg.left,cfg.right]);
  const y = d3.scaleLinear().domain(cfg.yDomain).range([cfg.bottom,cfg.top]);
  const g = svg.append("g");
  g.append("rect").attr("x",cfg.left).attr("y",cfg.top).attr("width",cfg.right-cfg.left).attr("height",cfg.bottom-cfg.top).attr("fill","#e2e3e3");
  const mid = a=>d3.pairs(a).map(p=>(p[0]+p[1])/2);
  mid(cfg.yTicks).forEach(v=>g.append("line").attr("x1",cfg.left).attr("x2",cfg.right).attr("y1",y(v)).attr("y2",y(v)).attr("stroke","#fff").attr("stroke-width",.4));
  mid(cfg.xTicks).forEach(v=>g.append("line").attr("y1",cfg.top).attr("y2",cfg.bottom).attr("x1",x(v)).attr("x2",x(v)).attr("stroke","#fff").attr("stroke-width",.4));
  cfg.yTicks.forEach(v=>g.append("line").attr("x1",cfg.left).attr("x2",cfg.right).attr("y1",y(v)).attr("y2",y(v)).attr("stroke","#fff").attr("stroke-width",.9));
  cfg.xTicks.forEach(v=>g.append("line").attr("y1",cfg.top).attr("y2",cfg.bottom).attr("x1",x(v)).attr("x2",x(v)).attr("stroke","#fff").attr("stroke-width",.9));
  const dots = d3.range(0,cfg.dots.length,2).map(i=>[cfg.dots[i],cfg.dots[i+1]]);
  g.selectAll(null).data(dots).enter().append("circle").attr("cx",d=>x(d[0])).attr("cy",d=>y(d[1])).attr("r",2.5).attr("fill","#0c0c0c");
  g.selectAll(null).data(cfg.ovca).enter().append("circle").attr("cx",d=>x(d[3])).attr("cy",d=>y(d[4])).attr("r",3.1).attr("fill","#e6222b");
  g.selectAll(null).data(cfg.invest).enter().append("circle").attr("cx",d=>x(d[3])).attr("cy",d=>y(d[4])).attr("r",3.1).attr("fill","#f0992b");
  const band = d3.area().x((d,i)=>x(cfg.rx[i])).y0((d,i)=>y(cfg.lo[i])).y1((d,i)=>y(cfg.hi[i]));
  g.append("path").attr("d",band(cfg.rx)).attr("fill","#999").attr("fill-opacity",.55);
  g.append("line").attr("x1",x(cfg.fit[0][0])).attr("y1",y(cfg.fit[0][1])).attr("x2",x(cfg.fit[1][0])).attr("y2",y(cfg.fit[1][1])).attr("stroke","#3d62ad").attr("stroke-width",1.3);
  [[cfg.ovca,"#e8262a","#ee8572"],[cfg.invest,"#f39a2e","#f6c58e"]].forEach(([rows,txt,edge])=>{
    rows.forEach(d=>{
      g.append("line").attr("x1",x(d[1])).attr("y1",y(d[2])).attr("x2",x(d[3])).attr("y2",y(d[4])).attr("stroke",edge).attr("stroke-width",.7);
      const box = g.append("rect").attr("fill","#fff").attr("fill-opacity",.92).attr("stroke",edge).attr("stroke-width",.5).attr("rx",1);
      const t = label(g,x(d[1]),y(d[2]),d[0],6.3,txt,{anchor:"middle",weight:"bold"});
      const b = t.node().getBBox();
      box.attr("x",b.x-2).attr("y",b.y-1).attr("width",b.width+4).attr("height",b.height+2);
    });
  });
  const ax = g.append("g").attr("transform","translate(0,"+cfg.bottom+")").call(d3.axisBottom(x).tickValues(cfg.xTicks).tickSize(2));
  const ay = g.append("g").attr("transform","translate("+cfg.left+",0)").call(d3.axisLeft(y).tickValues(cfg.yTicks).tickSize(2));
  [ax,ay].forEach(a=>{a.select(".domain").remove();a.selectAll("line").attr("stroke","#777");a.selectAll("text").attr("font-size",13.5).attr("font-family","'Liberation Sans',Arial,sans-serif").attr("fill","#666");});
  label(g,cfg.statX,1339,cfg.stat,13,"#444");
  label(g,cfg.xTitleX,1396,cfg.xTitle,14,"#222",{anchor:"middle"});
  label(g,cfg.yTitleX,1186,cfg.yTitle,14,"#222",{anchor:"middle",rotate:-90});
}
scatter({left:59.3,right:410,top:1019,bottom:1366.7,xDomain:[-1.74,12.57],yDomain:[-1.76,14.2],xTicks:[0,4,8,12],yTicks:[0,5,10],dots:dotsNiraparib,ovca:ovcaNiraparib,invest:investigatedNiraparib,rx:ribbonXNiraparib,lo:ribbonLoNiraparib,hi:ribbonHiNiraparib,fit:fitNiraparib,stat:"R=0.72, R² = 0.52, p <2.2e-16",statX:222,xTitle:"log2 IC50 Olaparib",xTitleX:220,yTitle:"log2 IC50 Niraparib",yTitleX:31});
scatter({left:482.7,right:834,top:1019,bottom:1365,xDomain:[-1.77,12.57],yDomain:[-7.6,14.39],xTicks:[0,4,8,12],yTicks:[-5,0,5,10],dots:dotsTalazoparib,ovca:ovcaTalazoparib,invest:investigatedTalazoparib,rx:ribbonXTalazoparib,lo:ribbonLoTalazoparib,hi:ribbonHiTalazoparib,fit:fitTalazoparib,stat:"R=0.79, R² = 0.62, p <2.2e-16",statX:645,xTitle:"log2 IC50 Olaparib",xTitleX:657,yTitle:"log2 IC50 Talazoparib",yTitleX:452});
scatter({left:916,right:1267,top:1019,bottom:1367.7,xDomain:[-2.49,13.61],yDomain:[-1.79,12.59],xTicks:[0,5,10],yTicks:[0,4,8,12],dots:dotsOlaparib,ovca:ovcaOlaparib,invest:investigatedOlaparib,rx:ribbonXOlaparib,lo:ribbonLoOlaparib,hi:ribbonHiOlaparib,fit:fitOlaparib,stat:"R=0.72, R² = 0.51, p <2.2e-16",statX:1087,xTitle:"log2 IC50 Cisplatin",xTitleX:1097,yTitle:"log2 IC50 Olaparib",yTitleX:889});

// dot legend in the last scatter
const dotLegend = ["Cancer cell lines","OvCA cell lines","OvCA cell lines"];
const dotLegendColor = ["#2a2a2a","#e6222b","#f0992b"];
const dotLegendY = [1251,1271,1290];
dotLegend.forEach((s,i)=>{
  svg.append("circle").attr("cx",1159).attr("cy",dotLegendY[i]).attr("r",3.8).attr("fill",dotLegendColor[i]);
  label(svg,1165,dotLegendY[i],s,13,"#444");
});
label(svg,1163,1306,"investigated",13,"#444");
</script>
</body>
</html>
